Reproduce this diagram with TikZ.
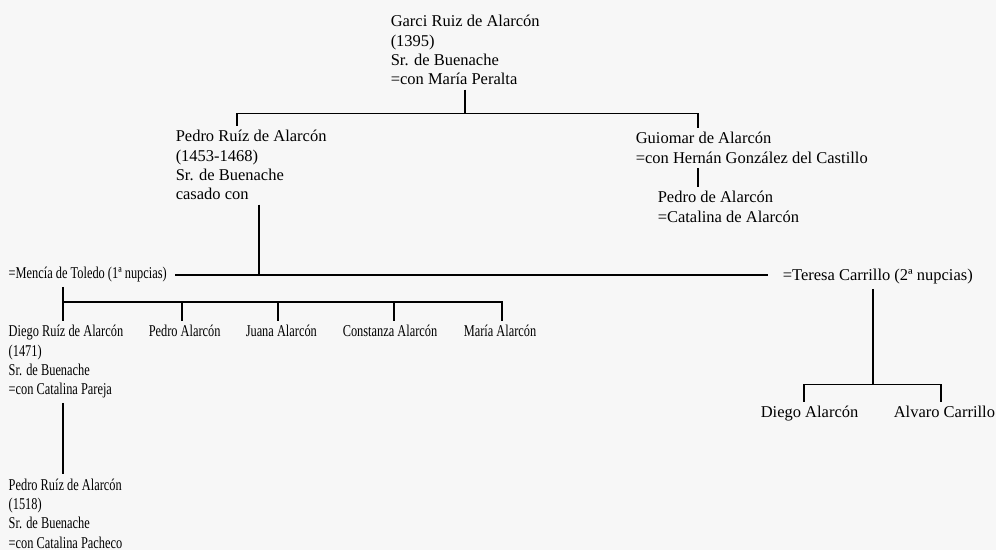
\documentclass[tikz,border=0pt]{standalone}
\usepackage{fontspec}
\setmainfont{Liberation Serif}
\newfontfamily\narrowfont[FakeStretch=0.75]{Liberation Serif}
\begin{document}
\begin{tikzpicture}[
  x=1pt, y=-1pt, line width=1.5pt,
  every node/.style = {anchor=north west, align=left, inner xsep=0pt,
    inner ysep=4pt, font=\fontsize{16.5}{19.3}\selectfont},
  narrow/.style = {font=\fontsize{16.5}{19.3}\narrowfont}
  ]
  \path[use as bounding box, fill=black!3] (0,0) rectangle (996,550);
  % people
  \node (garci) at (390,10.5) {Garci Ruiz de Alarcón\\(1395)\\Sr. de Buenache\\=con María Peralta};
  \node (pedro) at (175,125.5) {Pedro Ruíz de Alarcón\\(1453-1468)\\Sr. de Buenache\\casado con};
  \node (guiomar) at (635,127.5) {Guiomar de Alarcón\\=con Hernán González del Castillo};
  \node (pedroA) at (657,186.5) {Pedro de Alarcón\\=Catalina de Alarcón};
  \node[narrow] (mencia) at (8,262.5) {=Mencía de Toledo (1ª nupcias)};
  \node (teresa) at (782,264.5) {=Teresa Carrillo (2ª nupcias)};
  \node[narrow] (diego) at (8,320.5) {Diego Ruíz de Alarcón\\(1471)\\Sr. de Buenache\\=con Catalina Pareja};
  \node[narrow] (pedroal) at (148,320.5) {Pedro Alarcón};
  \node[narrow] (juana) at (245,320.5) {Juana Alarcón};
  \node[narrow] (constanza) at (342,320.5) {Constanza Alarcón};
  \node[narrow] (maria) at (463,320.5) {María Alarcón};
  \node[narrow] (pedro2) at (8,474) {Pedro Ruíz de Alarcón\\(1518)\\Sr. de Buenache\\=con Catalina Pacheco};
  \node (diegoal) at (760,401.5) {Diego Alarcón};
  \node (alvaro) at (893,401.5) {Alvaro Carrillo};
  % lines
  \draw (garci.south) -- ++(0,24) coordinate (gbar);
  \draw ([xshift=62pt]pedro.north west) |- (gbar) -| ([xshift=63pt]guiomar.north west);
  \draw ([xshift=63pt]guiomar.south west) -- ([xshift=41pt]pedroA.north west);
  \draw ([xshift=8pt]mencia.east) -- ([xshift=-14pt]mencia.east -| teresa.west);
  \draw ([xshift=84pt]pedro.south west) coordinate (p1) -- (p1 |- mencia.east);
  \draw ([xshift=55pt]mencia.south west) -- ([xshift=55pt]diego.north west);
  \path ([xshift=55pt]mencia.south west) ++(0,15) coordinate (mbar);
  \foreach \n/\dx in {pedroal/34,juana/33,constanza/52,maria/39}
    \draw (mbar) -| ([xshift=\dx pt]\n.north west);
  \draw ([xshift=55pt]diego.south west) -- ([xshift=55pt]pedro2.north west);
  \draw ([xshift=91pt]teresa.south west) -- ++(0,95.5) coordinate (tbar);
  \draw ([xshift=44pt]diegoal.north west) |- (tbar) -| ([xshift=48pt]alvaro.north west);
\end{tikzpicture}
\end{document}
